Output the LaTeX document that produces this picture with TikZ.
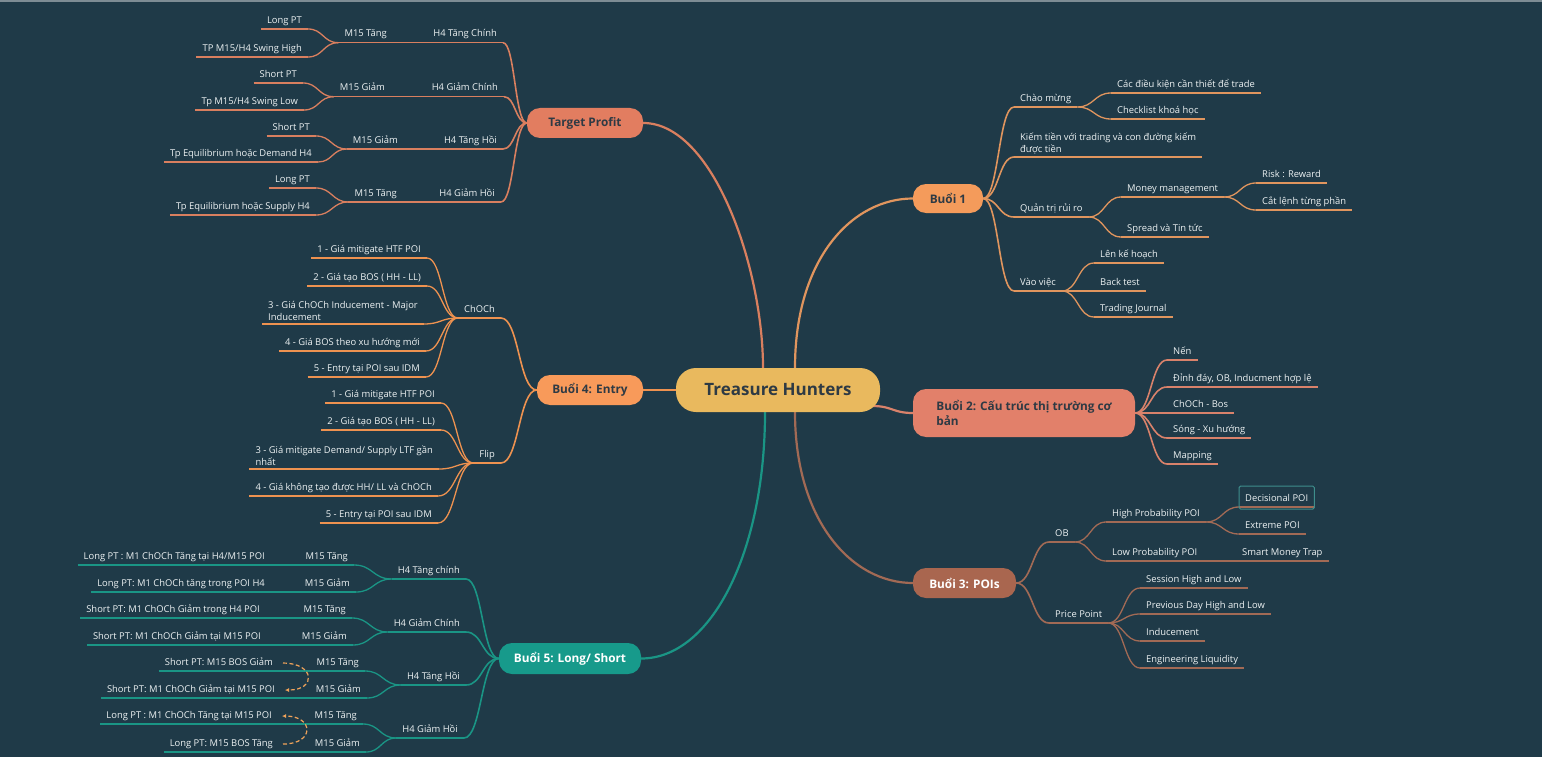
\documentclass[tikz,border=0pt]{standalone}
\usepackage{fontspec}
\setmainfont{Open Sans}
\usetikzlibrary{calc,arrows.meta,backgrounds}
\definecolor{bgcol}{HTML}{1F3A48}
\definecolor{topbar}{HTML}{7D8C94}
\definecolor{leaftxt}{HTML}{EDF2F3}
\definecolor{darktxt}{HTML}{2E3A44}
\definecolor{centerfill}{HTML}{E9B95E}
\definecolor{tpfill}{HTML}{E27D60}
\definecolor{bafill}{HTML}{F49B5B}
\definecolor{bbfill}{HTML}{E2806A}
\definecolor{bcfill}{HTML}{A9664F}
\definecolor{bdfill}{HTML}{F89A5A}
\definecolor{befill}{HTML}{179A8B}
\definecolor{tpcol}{HTML}{D97F5F}
\definecolor{bacol}{HTML}{E0955E}
\definecolor{bbcol}{HTML}{D9826B}
\definecolor{bccol}{HTML}{A26A55}
\definecolor{bdcol}{HTML}{EE9250}
\definecolor{becol}{HTML}{1A9585}
\definecolor{dashcol}{HTML}{F0A35A}
\definecolor{selcol}{HTML}{3E8E8C}

\newcommand{\leaffont}{\fontsize{9.4}{12}\selectfont}
\newcommand{\topicfont}{\fontsize{11.8}{15}\selectfont\bfseries}

\tikzset{
  leafbase/.style={text=leaftxt, font=\leaffont, inner xsep=6pt, inner ysep=3pt},
  leaf/.style={leafbase, text height=7pt, text depth=2.5pt},
  lt/.style={leaf, anchor=south east},
  rt/.style={leaf, anchor=south west},
  lt2/.style={leafbase, align=left, anchor=south east},
  rt2/.style={leafbase, align=left, anchor=south west},
  topic/.style={font=\topicfont, text=darktxt, rounded corners=13pt, inner sep=0pt},
  hc/.style={to path={let \p1=(\tikztostart), \p2=(\tikztotarget) in
    .. controls ({(\x1+\x2)/2},\y1) and ({(\x1+\x2)/2},\y2) .. (\tikztotarget)}},
}

\begin{document}
\begin{tikzpicture}[x=1pt, y=-1pt]
  \useasboundingbox (0,0) rectangle (1542,757);
  % Hauptthemen
  \node[topic, fill=centerfill, minimum width=204pt, minimum height=44pt, rounded corners=20pt,
        font=\fontsize{17}{20}\selectfont\bfseries] (th) at (778,390) {Treasure Hunters};
  \node[topic, fill=tpfill, minimum width=116pt, minimum height=30pt] (tp) at (585,123) {Target Profit};
  \node[topic, fill=bafill, minimum width=70pt, minimum height=29pt] (b1) at (948,198.5) {Buổi 1};
  \node[topic, fill=bbfill, minimum width=222pt, minimum height=48pt, align=left] (b2) at (1024,413)
        {Buổi 2: Cấu trúc thị trường cơ\\bản};
  \node[topic, fill=bcfill, text=white, minimum width=103pt, minimum height=30pt] (b3) at (964.5,583) {Buổi 3: POIs};
  \node[topic, fill=bdfill, minimum width=106pt, minimum height=30pt] (b4) at (590,390) {Buổi 4: Entry};
  \node[topic, fill=befill, text=white, minimum width=142pt, minimum height=31pt] (b5) at (570,658.5) {Buổi 5: Long/ Short};

  % Target Profit
  \node[lt] (tph1) at (503,42.7) {H4 Tăng Chính};
  \node[lt] (tpm1) at (393,42.7) {M15 Tăng};
  \node[lt] (tpl1) at (308,29) {Long PT};
  \node[lt] (tpl2) at (308,57) {TP M15/H4 Swing High};
  \node[lt] (tph2) at (504,96.7) {H4 Giảm Chính};
  \node[lt] (tpm2) at (391,96.7) {M15 Giảm};
  \node[lt] (tpl3) at (303,83) {Short PT};
  \node[lt] (tpl4) at (304,110) {Tp M15/H4 Swing Low};
  \node[lt] (tph3) at (503,149) {H4 Tăng Hồi};
  \node[lt] (tpm3) at (404,149) {M15 Giảm};
  \node[lt] (tpl5) at (316,136) {Short PT};
  \node[lt] (tpl6) at (318,162) {Tp Equilibrium hoặc Demand H4};
  \node[lt] (tph4) at (501,202) {H4 Giảm Hồi};
  \node[lt] (tpm4) at (403,202) {M15 Tăng};
  \node[lt] (tpl7) at (316,188) {Long PT};
  \node[lt] (tpl8) at (316,215) {Tp Equilibrium hoặc Supply H4};

  % Buoi 1
  \node[rt] (chao) at (1014,107) {Chào mừng};
  \node[rt] (dk) at (1111,93) {Các điều kiện cần thiết để trade};
  \node[rt] (check) at (1111,119) {Checklist khoá học};
  \node[rt2] (kiem) at (1014,157) {Kiếm tiền với trading và con đường kiếm\\được tiền};
  \node[rt] (qt) at (1014,217) {Quản trị rủi ro};
  \node[rt] (money) at (1121,197) {Money management};
  \node[rt] (rr) at (1256,183) {Risk : Reward};
  \node[rt] (cat) at (1256,210) {Cắt lệnh từng phần};
  \node[rt] (spread) at (1121,237) {Spread và Tin tức};
  \node[rt] (vao) at (1014,291) {Vào việc};
  \node[rt] (len) at (1094,263) {Lên kế hoạch};
  \node[rt] (back) at (1094,291) {Back test};
  \node[rt] (journal) at (1094,317) {Trading Journal};

  % Buoi 2
  \node[rt] (nen) at (1167,360) {Nến};
  \node[rt] (dinh) at (1167,387) {Đỉnh đáy, OB, Inducment hợp lệ};
  \node[rt] (chb) at (1167,413) {ChOCh - Bos};
  \node[rt] (song) at (1167,438) {Sóng - Xu hướng};
  \node[rt] (mapp) at (1167,464) {Mapping};

  % Buoi 3
  \node[rt] (ob) at (1049,542) {OB};
  \node[rt] (hp) at (1106,522) {High Probability POI};
  \node[rt] (dec) at (1239,507) {Decisional POI};
  \node[rt] (ext) at (1239,534) {Extreme POI};
  \node[rt] (lp) at (1106,561) {Low Probability POI};
  \node[rt] (smt) at (1236,561) {Smart Money Trap};
  \node[rt] (pp) at (1049,623) {Price Point};
  \node[rt] (sess) at (1140,588) {Session High and Low};
  \node[rt] (prev) at (1140,614) {Previous Day High and Low};
  \node[rt] (ind) at (1140,641) {Inducement};
  \node[rt] (eng) at (1140,668) {Engineering Liquidity};

  % Buoi 4
  \node[lt] (ch) at (501,318) {ChOCh};
  \node[lt] (c1) at (427,258) {1 - Giá mitigate HTF POI};
  \node[lt] (c2) at (427,286) {2 - Giá tạo BOS ( HH - LL)};
  \node[lt2] (c3) at (424,324) {3 - Giá ChOCh Inducement - Major\\Inducement};
  \node[lt] (c4) at (426,351) {4 - Giá BOS theo xu hướng mới};
  \node[lt] (c5) at (426,377) {5 - Entry tại POI sau IDM};
  \node[lt] (fl) at (501,463) {Flip};
  \node[lt] (f1) at (441,403) {1 - Giá mitigate HTF POI};
  \node[lt] (f2) at (441,430) {2 - Giá tạo BOS ( HH - LL)};
  \node[lt2] (f3) at (439,469) {3 - Giá mitigate Demand/ Supply LTF gần\\nhất};
  \node[lt] (f4) at (438,496) {4 - Giá không tạo được HH/ LL và ChOCh};
  \node[lt] (f5) at (438,523) {5 - Entry tại POI sau IDM};

  % Buoi 5
  \node[lt] (h5a) at (466,579) {H4 Tăng chính};
  \node[lt] (m5a1) at (354,565) {M15 Tăng};
  \node[lt] (m5a2) at (356,592) {M15 Giảm};
  \node[lt] (l5a1) at (271,565) {Long PT : M1 ChOCh Tăng tại H4/M15 POI};
  \node[lt] (l5a2) at (271,592) {Long PT: M1 ChOCh tăng trong POI H4};
  \node[lt] (h5b) at (466,632) {H4 Giảm Chính};
  \node[lt] (m5b1) at (352,618) {M15 Tăng};
  \node[lt] (m5b2) at (353,645) {M15 Giảm};
  \node[lt] (l5b1) at (266,618) {Short PT: M1 ChOCh Giảm trong H4 POI};
  \node[lt] (l5b2) at (267,645) {Short PT: M1 ChOCh Giảm tại M15 POI};
  \node[lt] (h5c) at (466,685) {H4 Tăng Hồi};
  \node[lt] (m5c1) at (365,671) {M15 Tăng};
  \node[lt] (m5c2) at (367,698) {M15 Giảm};
  \node[lt] (l5c1) at (279,671) {Short PT: M15 BOS Giảm};
  \node[lt] (l5c2) at (281,698) {Short PT: M1 ChOCh Giảm tại M15 POI};
  \node[lt] (h5d) at (464,738) {H4 Giảm Hồi};
  \node[lt] (m5d1) at (363,724) {M15 Tăng};
  \node[lt] (m5d2) at (366,752) {M15 Giảm};
  \node[lt] (l5d1) at (278,724) {Long PT : M1 ChOCh Tăng tại M15 POI};
  \node[lt] (l5d2) at (279,752) {Long PT: M15 BOS Tăng};

  \begin{scope}[on background layer]
    \fill[bgcol] (0,0) rectangle (1542,757);
    \fill[topbar] (0,0) rectangle (1542,2);
    % Hauptaeste
    \draw[tpcol, line width=2.2pt] (tp.east) .. controls +(70,0) and +(0,-100) .. ([xshift=-15pt]th.north);
    \draw[bacol, line width=2.2pt] ([xshift=17pt]th.north) .. controls +(0,-110) and +(-60,0) .. (b1.west);
    \draw[bbcol, line width=2.2pt] ([xshift=-8pt,yshift=-16pt]th.east) to[hc] (b2.west);
    \draw[bccol, line width=2.2pt] ([xshift=17pt]th.south) .. controls +(0,110) and +(-60,0) .. (b3.west);
    \draw[bdcol, line width=2.2pt] (th.west) -- (b4.east);
    \draw[becol, line width=2.2pt] ([xshift=-13pt]th.south) .. controls +(0,140) and +(70,0) .. (b5.east);

    % Target Profit
    \foreach \a/\b in {tp.west/tph1, tp.west/tph2, tp.west/tph3, tp.west/tph4}
      \draw[tpcol, line width=1.6pt] (\a) to[hc] (\b.south east);
    \foreach \a/\b in {tph1.south west/tpm1, tph2.south west/tpm2, tph3.south west/tpm3, tph4.south west/tpm4,
                       tpm1.south west/tpl1, tpm1.south west/tpl2, tpm2.south west/tpl3, tpm2.south west/tpl4,
                       tpm3.south west/tpl5, tpm3.south west/tpl6, tpm4.south west/tpl7, tpm4.south west/tpl8}
      \draw[tpcol, line width=1.3pt] (\a) to[hc] (\b.south east);
    \foreach \n in {tph1,tph2,tph3,tph4,tpm1,tpm2,tpm3,tpm4,tpl1,tpl2,tpl3,tpl4,tpl5,tpl6,tpl7,tpl8}
      \draw[tpcol, line width=1.3pt] (\n.south west) -- (\n.south east);

    % Buoi 1
    \foreach \b in {chao, kiem, qt, vao}
      \draw[bacol, line width=1.6pt] (b1.east) to[hc] (\b.south west);
    \foreach \a/\b in {chao/dk, chao/check, qt/money, qt/spread, money/rr, money/cat, vao/len, vao/back, vao/journal}
      \draw[bacol, line width=1.3pt] (\a.south east) to[hc] (\b.south west);
    \foreach \n in {chao,dk,check,kiem,qt,money,rr,cat,spread,vao,len,back,journal}
      \draw[bacol, line width=1.3pt] (\n.south west) -- (\n.south east);

    % Buoi 2
    \foreach \b in {nen, dinh, chb, song, mapp}
      \draw[bbcol, line width=1.6pt] (b2.east) to[hc] (\b.south west);
    \foreach \n in {nen,dinh,chb,song,mapp}
      \draw[bbcol, line width=1.3pt] (\n.south west) -- (\n.south east);

    % Buoi 3
    \foreach \b in {ob, pp}
      \draw[bccol, line width=1.6pt] (b3.east) to[hc] (\b.south west);
    \foreach \a/\b in {ob/hp, ob/lp, hp/dec, hp/ext, lp/smt, pp/sess, pp/prev, pp/ind, pp/eng}
      \draw[bccol, line width=1.3pt] (\a.south east) to[hc] (\b.south west);
    \foreach \n in {ob,hp,dec,ext,lp,smt,pp,sess,prev,ind,eng}
      \draw[bccol, line width=1.3pt] (\n.south west) -- (\n.south east);
    \draw[selcol, line width=1pt, rounded corners=1.5pt] ([yshift=-2pt]dec.south west) rectangle ([yshift=5pt]dec.north east);

    % Buoi 4
    \foreach \b in {ch, fl}
      \draw[bdcol, line width=1.6pt] (b4.west) to[hc] (\b.south east);
    \foreach \a/\b in {ch/c1, ch/c2, ch/c3, ch/c4, ch/c5, fl/f1, fl/f2, fl/f3, fl/f4, fl/f5}
      \draw[bdcol, line width=1.3pt] (\a.south west) to[hc] (\b.south east);
    \foreach \n in {ch,c1,c2,c3,c4,c5,fl,f1,f2,f3,f4,f5}
      \draw[bdcol, line width=1.3pt] (\n.south west) -- (\n.south east);

    % Buoi 5
    \foreach \b in {h5a, h5b, h5c, h5d}
      \draw[becol, line width=1.6pt] (b5.west) to[hc] (\b.south east);
    \foreach \a/\b in {h5a/m5a1, h5a/m5a2, h5b/m5b1, h5b/m5b2, h5c/m5c1, h5c/m5c2, h5d/m5d1, h5d/m5d2,
                       m5a1/l5a1, m5a2/l5a2, m5b1/l5b1, m5b2/l5b2, m5c1/l5c1, m5c2/l5c2, m5d1/l5d1, m5d2/l5d2}
      \draw[becol, line width=1.3pt] (\a.south west) to[hc] (\b.south east);
    \foreach \n in {h5a,h5b,h5c,h5d,m5a1,m5a2,m5b1,m5b2,m5c1,m5c2,m5d1,m5d2,l5a1,l5a2,l5b1,l5b2,l5c1,l5c2,l5d1,l5d2}
      \draw[becol, line width=1.3pt] (\n.south west) -- (\n.south east);
    % gestrichelte Pfeile
    \draw[dashcol, line width=1.2pt, dash pattern=on 4pt off 2.5pt, -{Latex[length=4pt,width=4pt]}]
      ([xshift=4pt]l5c1.east) .. controls +(32,0) and +(32,0) .. ([xshift=4pt]l5c2.east);
    \draw[dashcol, line width=1.2pt, dash pattern=on 4pt off 2.5pt, -{Latex[length=4pt,width=4pt]}]
      ([xshift=4pt]l5d2.east) .. controls +(32,0) and +(32,0) .. ([xshift=4pt]l5d1.east);
  \end{scope}
\end{tikzpicture}
\end{document}
